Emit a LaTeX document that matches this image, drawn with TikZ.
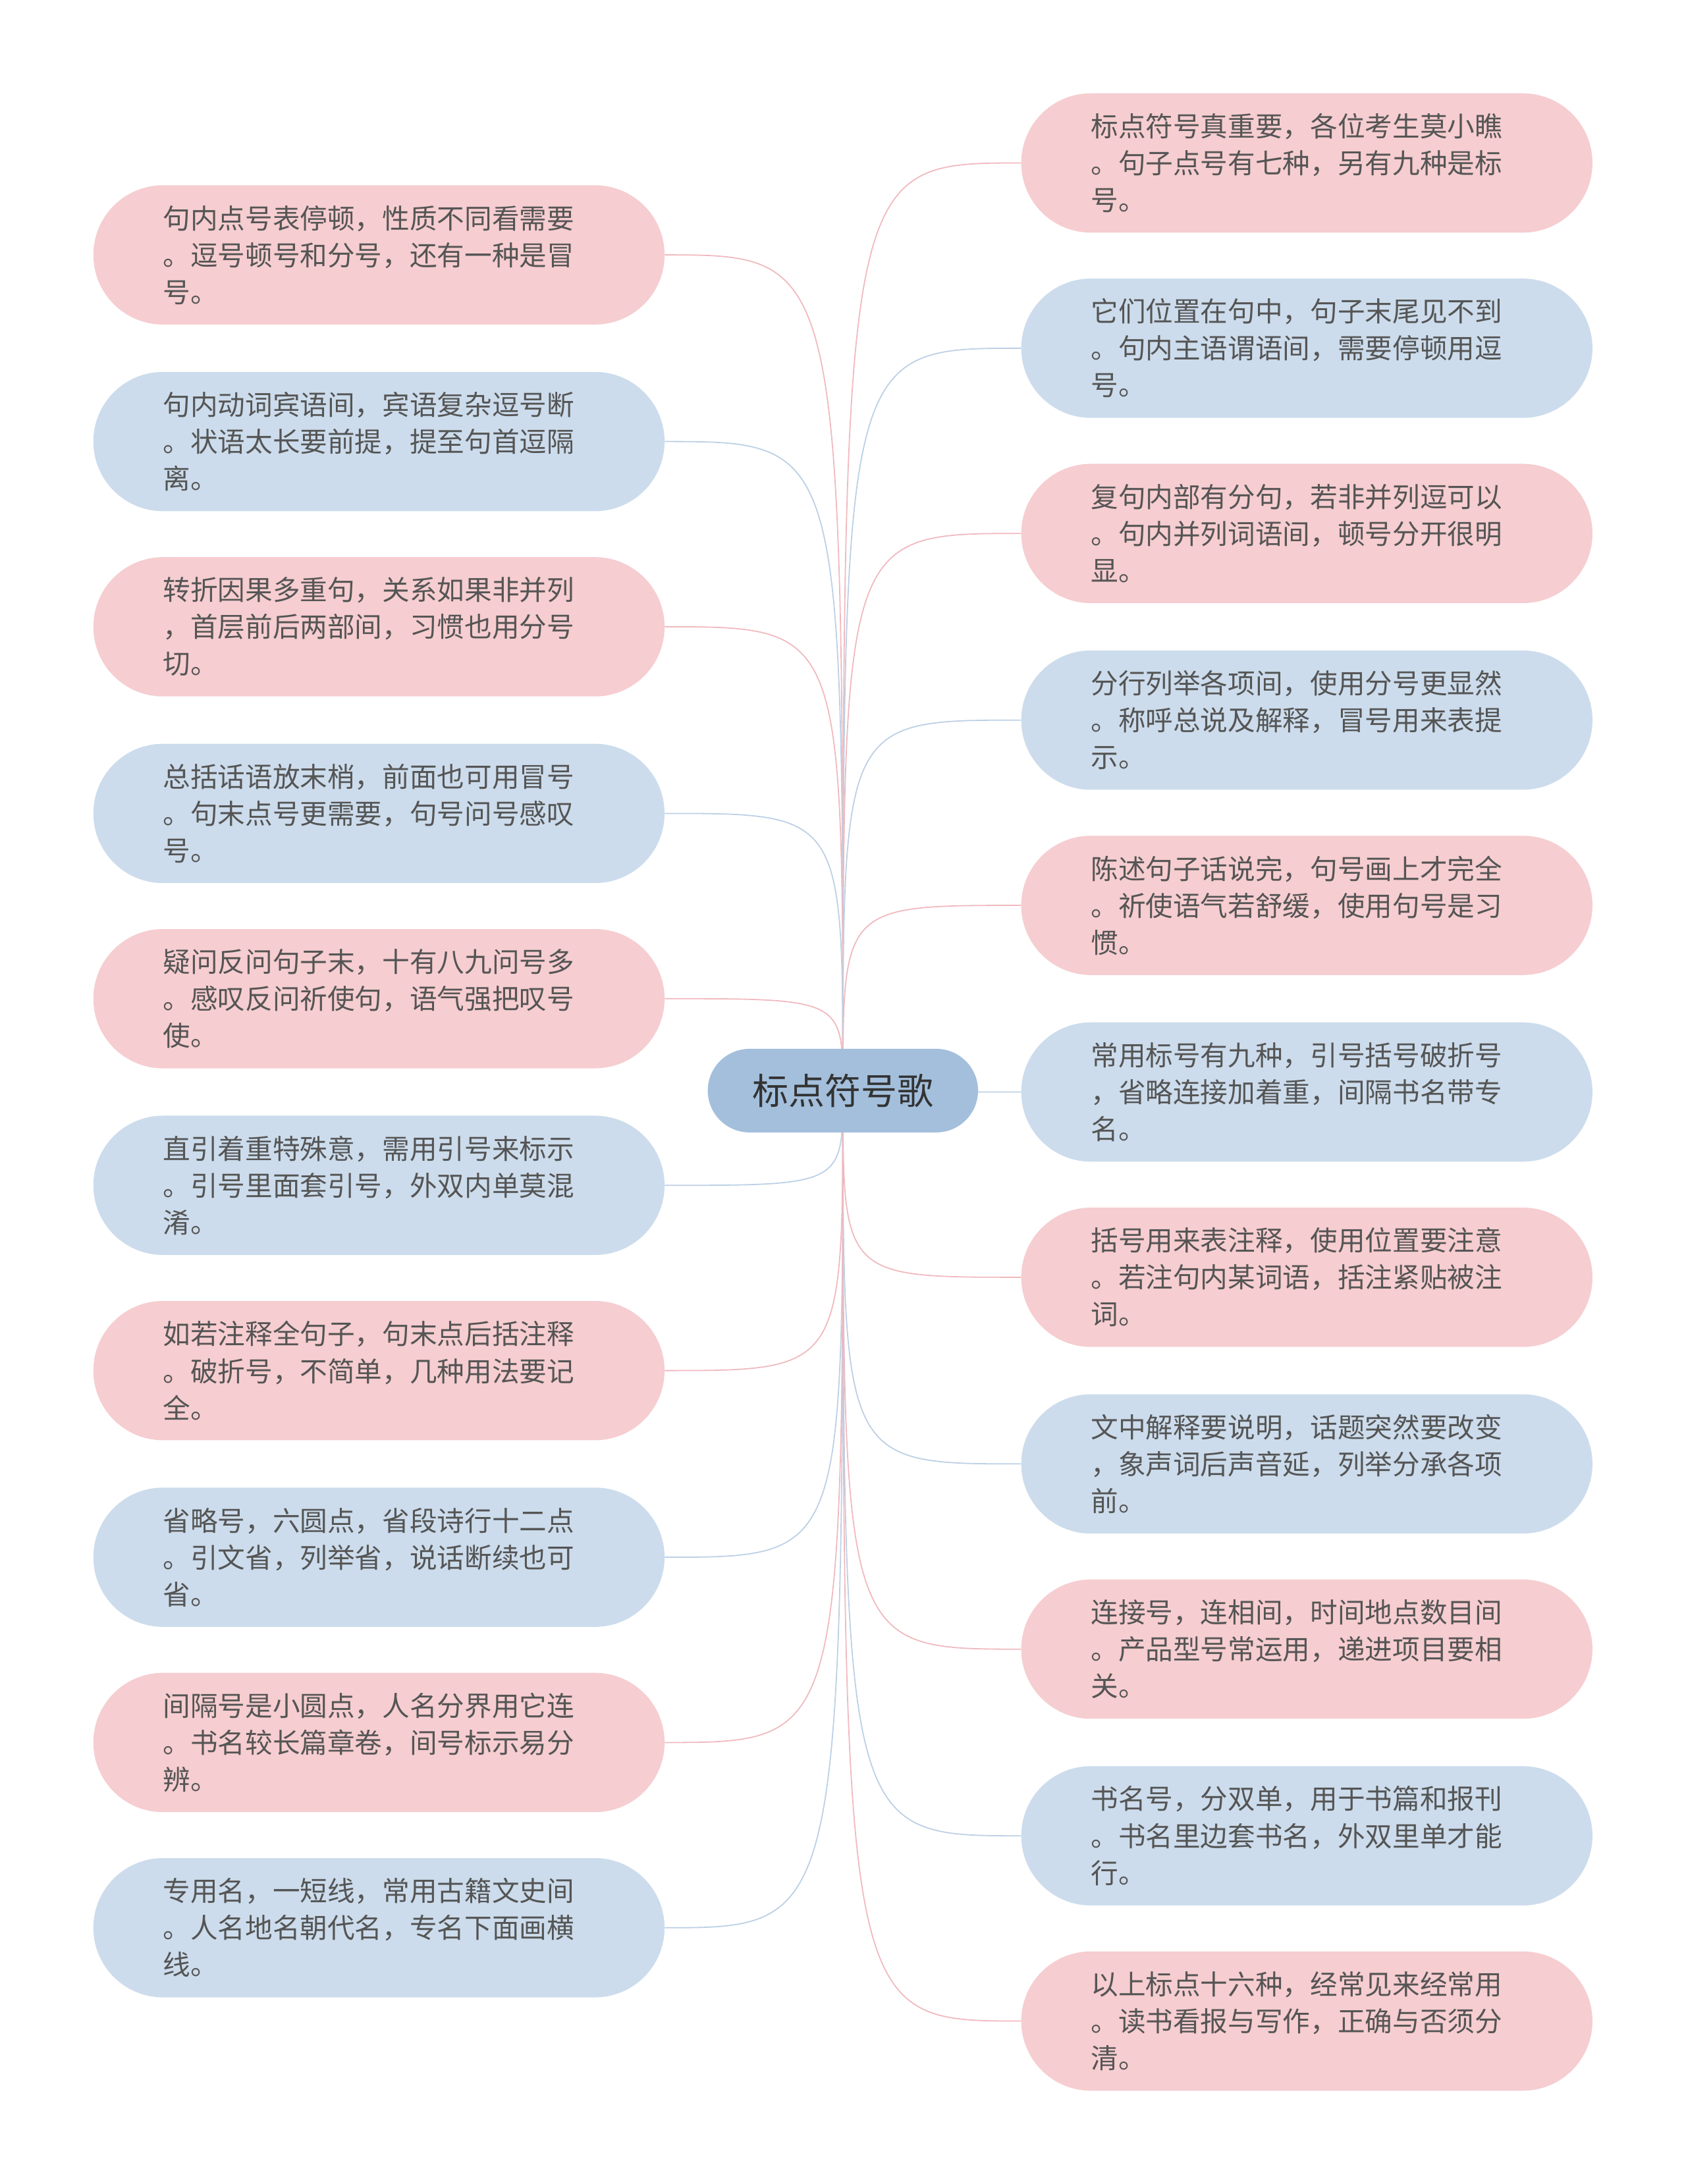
\documentclass[tikz,border=0pt]{standalone}
\usepackage{fontspec}
\setmainfont{Noto Sans CJK SC}
\usetikzlibrary{backgrounds}
\definecolor{pinkfill}{HTML}{F6CDD0}
\definecolor{bluefill}{HTML}{CCDCEC}
\definecolor{pinkline}{HTML}{F0B9BE}
\definecolor{blueline}{HTML}{BCD0E5}
\definecolor{rootfill}{HTML}{A3BFDC}
\definecolor{txt}{HTML}{555555}
\begin{document}
\begin{tikzpicture}[x=0.5mm,y=-0.5mm,
    leaf/.style={rectangle, rounded corners=25mm, minimum width=205mm, minimum height=50mm,
      text width=155mm, align=left, inner xsep=0pt, text=txt, font=\fontsize{28}{37.7}\selectfont},
    pinkleaf/.style={leaf, fill=pinkfill},
    blueleaf/.style={leaf, fill=bluefill},
    root/.style={rectangle, rounded corners=15mm, minimum width=97mm, minimum height=30mm,
      fill=rootfill, text=black!80, font=\fontsize{37}{40}\selectfont},
    link/.style={line width=1.2pt}
  ]
  \useasboundingbox (0,0) rectangle (1210,1568);
  % Root
  \node[root] (root) at (605,783) {标点符号歌};

  % Left
  \node[pinkleaf] (l1) at (272,183) {句内点号表停顿，性质不同看需要\\。逗号顿号和分号，还有一种是冒\\号。};
  \node[blueleaf] (l2) at (272,317) {句内动词宾语间，宾语复杂逗号断\\。状语太长要前提，提至句首逗隔\\离。};
  \node[pinkleaf] (l3) at (272,450) {转折因果多重句，关系如果非并列\\，首层前后两部间，习惯也用分号\\切。};
  \node[blueleaf] (l4) at (272,584) {总括话语放末梢，前面也可用冒号\\。句末点号更需要，句号问号感叹\\号。};
  \node[pinkleaf] (l5) at (272,717) {疑问反问句子末，十有八九问号多\\。感叹反问祈使句，语气强把叹号\\使。};
  \node[blueleaf] (l6) at (272,851) {直引着重特殊意，需用引号来标示\\。引号里面套引号，外双内单莫混\\淆。};
  \node[pinkleaf] (l7) at (272,984) {如若注释全句子，句末点后括注释\\。破折号，不简单，几种用法要记\\全。};
  \node[blueleaf] (l8) at (272,1118) {省略号，六圆点，省段诗行十二点\\。引文省，列举省，说话断续也可\\省。};
  \node[pinkleaf] (l9) at (272,1251) {间隔号是小圆点，人名分界用它连\\。书名较长篇章卷，间号标示易分\\辨。};
  \node[blueleaf] (l10) at (272,1384) {专用名，一短线，常用古籍文史间\\。人名地名朝代名，专名下面画横\\线。};

  % Right
  \node[pinkleaf] (r1) at (938,117) {标点符号真重要，各位考生莫小瞧\\。句子点号有七种，另有九种是标\\号。};
  \node[blueleaf] (r2) at (938,250) {它们位置在句中，句子末尾见不到\\。句内主语谓语间，需要停顿用逗\\号。};
  \node[pinkleaf] (r3) at (938,383) {复句内部有分句，若非并列逗可以\\。句内并列词语间，顿号分开很明\\显。};
  \node[blueleaf] (r4) at (938,517) {分行列举各项间，使用分号更显然\\。称呼总说及解释，冒号用来表提\\示。};
  \node[pinkleaf] (r5) at (938,650) {陈述句子话说完，句号画上才完全\\。祈使语气若舒缓，使用句号是习\\惯。};
  \node[blueleaf] (r6) at (938,784) {常用标号有九种，引号括号破折号\\，省略连接加着重，间隔书名带专\\名。};
  \node[pinkleaf] (r7) at (938,917) {括号用来表注释，使用位置要注意\\。若注句内某词语，括注紧贴被注\\词。};
  \node[blueleaf] (r8) at (938,1051) {文中解释要说明，话题突然要改变\\，象声词后声音延，列举分承各项\\前。};
  \node[pinkleaf] (r9) at (938,1184) {连接号，连相间，时间地点数目间\\。产品型号常运用，递进项目要相\\关。};
  \node[blueleaf] (r10) at (938,1318) {书名号，分双单，用于书篇和报刊\\。书名里边套书名，外双里单才能\\行。};
  \node[pinkleaf] (r11) at (938,1451) {以上标点十六种，经常见来经常用\\。读书看报与写作，正确与否须分\\清。};

  % Connectors
  \begin{scope}[on background layer]
    \foreach \n/\c in {l1/pinkline,l2/blueline,l3/pinkline,l4/blueline,l5/pinkline,
                       l6/blueline,l7/pinkline,l8/blueline,l9/pinkline,l10/blueline}
      \draw[link, \c] (root.center) .. controls (root.center |- \n.east) .. (\n.east);
    \foreach \n/\c in {r1/pinkline,r2/blueline,r3/pinkline,r4/blueline,r5/pinkline,r6/blueline,
                       r7/pinkline,r8/blueline,r9/pinkline,r10/blueline,r11/pinkline}
      \draw[link, \c] (root.center) .. controls (root.center |- \n.west) .. (\n.west);
  \end{scope}
\end{tikzpicture}
\end{document}
